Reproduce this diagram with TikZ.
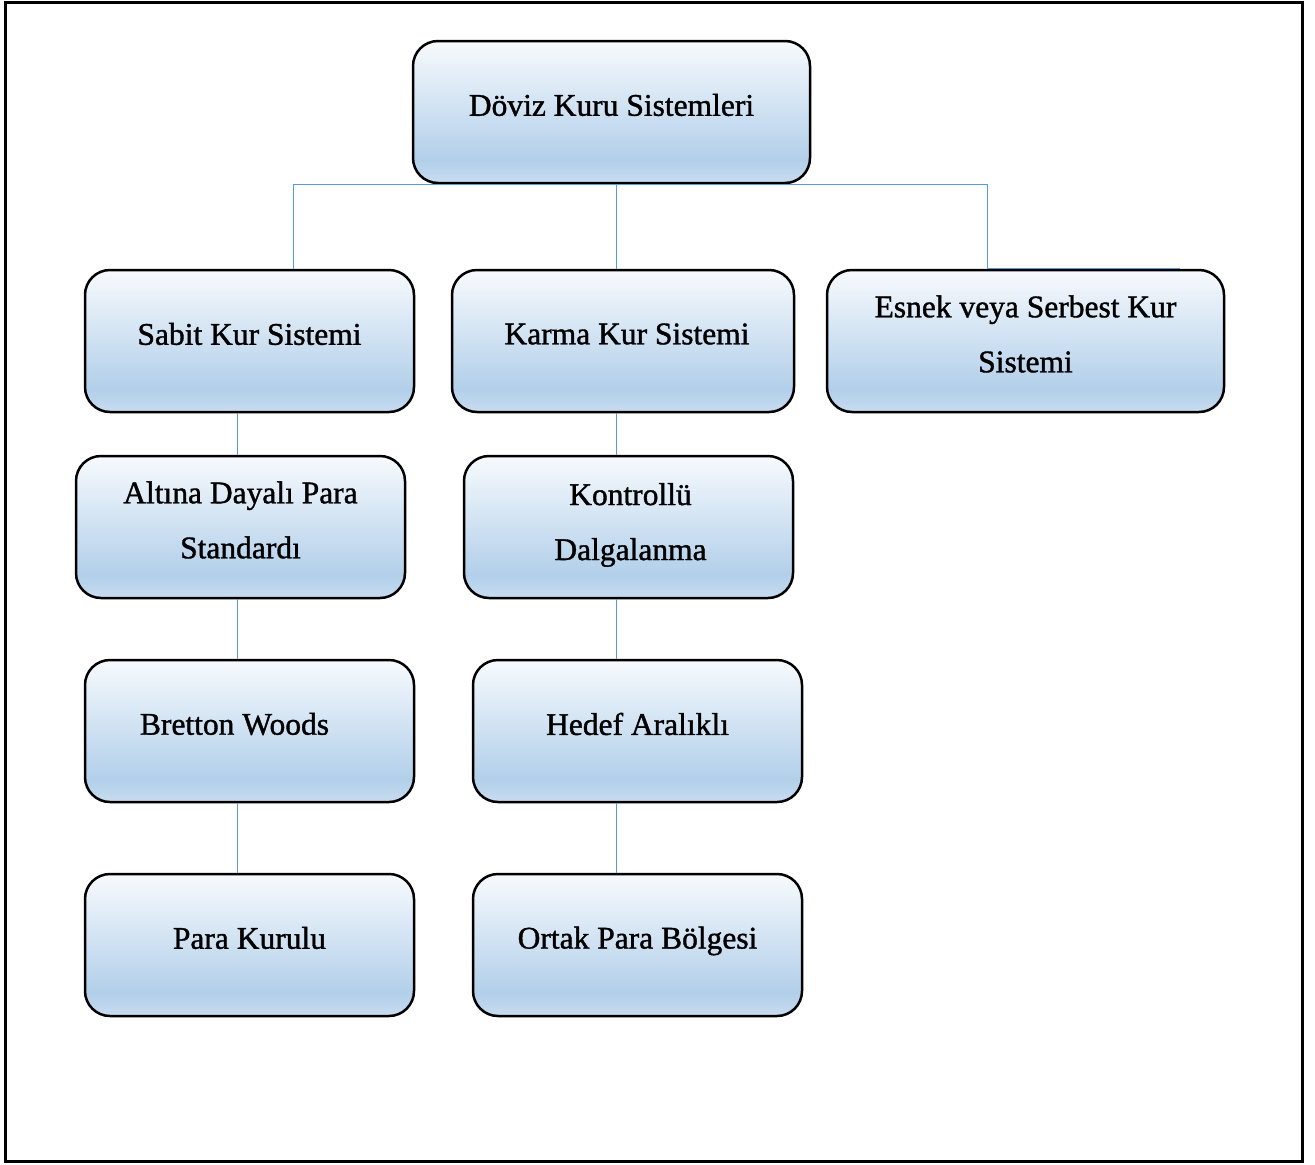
\documentclass[tikz,border=0pt]{standalone}
\usepackage{fontspec}
\setmainfont{Liberation Serif}[BoldFont=Liberation Serif, BoldFeatures={FakeBold=1.2}]
\usepackage{tikz}
\usetikzlibrary{positioning}

\definecolor{kutuust}{RGB}{247,250,253}
\definecolor{kutuorta}{RGB}{178,207,234}
\definecolor{kutualt}{RGB}{200,220,240}
\definecolor{hat}{RGB}{91,155,213}
\pgfdeclareverticalshading{kutudolgu}{100bp}{color(0bp)=(kutualt); color(25bp)=(kutualt); color(33bp)=(kutuorta); color(75bp)=(kutuust); color(100bp)=(kutuust)}

\begin{document}
\begin{tikzpicture}[x=1pt, y=-1pt,
	kutu/.style={draw, line width=2.5pt, rounded corners=25pt, shading=kutudolgu, minimum width=329pt, minimum height=142pt, inner sep=0pt},
	yazi/.style={align=center, font=\fontsize{31.5}{55}\selectfont\bfseries, yshift=7pt},
	bag/.style={draw=hat, line width=1pt}]
	\useasboundingbox (0,0) rectangle (1315,1165);
	\draw[line width=3pt] (5,2) rectangle (1302,1161);

	\node[kutu, minimum width=397pt, label={[yazi]center:Döviz Kuru Sistemleri}] (doviz) at (611.5,112) {};
	\node[kutu, label={[yazi]center:Sabit Kur Sistemi}] (sabit) at (249.5,341) {};
	\node[kutu, minimum width=342pt, label={[yazi, xshift=4pt]center:Karma Kur Sistemi}] (karma) at (623,341) {};
	\node[kutu, minimum width=397pt, label={[yazi]center:Esnek veya Serbest Kur\\Sistemi}] (esnek) at (1025.5,341) {};
	\node[kutu, label={[yazi]center:Altına Dayalı Para\\Standardı}] (altin) at (240.5,527) {};
	\node[kutu, label={[yazi, xshift=2pt, yshift=-5pt]center:Kontrollü\\Dalgalanma}] (kontrol) at (628.5,527) {};
	\node[kutu, label={[yazi, xshift=-15pt]center:Bretton Woods}] (bretton) at (249.5,731) {};
	\node[kutu, label={[yazi]center:Hedef Aralıklı}] (hedef) at (637.5,731) {};
	\node[kutu, label={[yazi]center:Para Kurulu}] (kurul) at (249.5,945) {};
	\node[kutu, label={[yazi, yshift=-3pt]center:Ortak Para Bölgesi}] (ortak) at (637.5,945) {};

	% ust seviye baglantilar
	\draw[bag] (doviz.south) -| ([xshift=43.5pt]sabit.north);
	\draw[bag] (doviz.south) -| ([xshift=-7pt]karma.north);
	\draw[bag] (doviz.south) -| ([xshift=-38.5pt]esnek.north) -- ([xshift=154.5pt]esnek.north);
	% sol kol
	\draw[bag] ([xshift=-12.5pt]sabit.south) -- ([xshift=-3.5pt]altin.north);
	\draw[bag] ([xshift=-3.5pt]altin.south) -- ([xshift=-12.5pt]bretton.north);
	\draw[bag] ([xshift=-12.5pt]bretton.south) -- ([xshift=-12.5pt]kurul.north);
	% orta kol
	\draw[bag] ([xshift=-7pt]karma.south) -- ([xshift=-12.5pt]kontrol.north);
	\draw[bag] ([xshift=-12.5pt]kontrol.south) -- ([xshift=-21.5pt]hedef.north);
	\draw[bag] ([xshift=-21.5pt]hedef.south) -- ([xshift=-21.5pt]ortak.north);
\end{tikzpicture}
\end{document}
